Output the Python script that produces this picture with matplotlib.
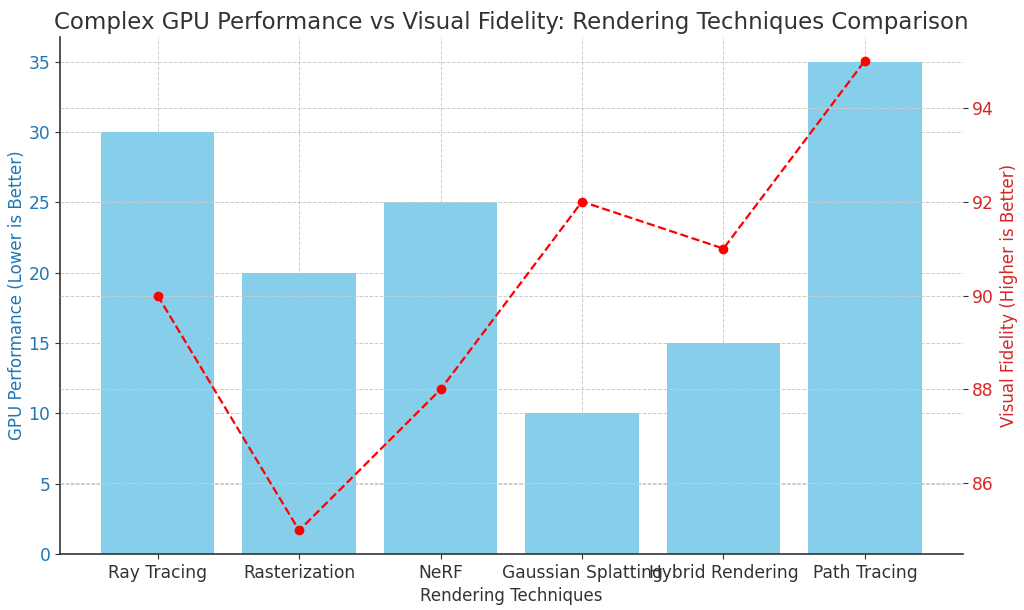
import matplotlib.pyplot as plt

# rendering techniques and their scores
techniques = ['Ray Tracing', 'Rasterization', 'NeRF', 'Gaussian Splatting',
              'Hybrid Rendering', 'Path Tracing']
gpu_perf = [30, 20, 25, 10, 15, 35]
fidelity = [90, 85, 88, 92, 91, 95]

plt.rcParams['text.color'] = '#333333'
plt.rcParams['axes.labelcolor'] = '#333333'
plt.rcParams['xtick.color'] = '#333333'
plt.rcParams['ytick.color'] = '#333333'
plt.rcParams['axes.edgecolor'] = '#333333'
plt.rcParams['axes.linewidth'] = 1.2

fig, ax1 = plt.subplots(figsize=(10.24, 6.1), dpi=100)
fig.subplots_adjust(left=0.0586, right=0.940, bottom=0.092, top=0.939)

ax1.bar(techniques, gpu_perf, color='skyblue', width=0.8)
ax1.set_xlabel('Rendering Techniques', fontsize=12)
ax1.set_ylabel('GPU Performance (Lower is Better)', color='tab:blue', fontsize=12,
               labelpad=2)
ax1.tick_params(axis='y', labelcolor='tab:blue', labelsize=12.3)
ax1.tick_params(axis='x', labelsize=12.3)
ax1.grid(True, linestyle='--', color='#cccccc', linewidth=0.7)
ax1.set_axisbelow(True)

ax2 = ax1.twinx()
ax2.plot(techniques, fidelity, color='red', linestyle='--', marker='o',
         linewidth=1.6, markersize=6)
ax2.set_ylabel('Visual Fidelity (Higher is Better)', color='tab:red', fontsize=12)
ax2.tick_params(axis='y', labelcolor='tab:red', labelsize=12.3)
ax2.grid(True, axis='y', linestyle='--', color='#cccccc', linewidth=0.7)

for ax in (ax1, ax2):
    ax.spines['top'].set_visible(False)
    ax.spines['right'].set_visible(False)
ax2.spines['left'].set_visible(False)
ax2.spines['bottom'].set_visible(False)

ax1.set_title('Complex GPU Performance vs Visual Fidelity: Rendering Techniques Comparison',
              fontsize=16.5)

plt.savefig('out.png', dpi=100)
